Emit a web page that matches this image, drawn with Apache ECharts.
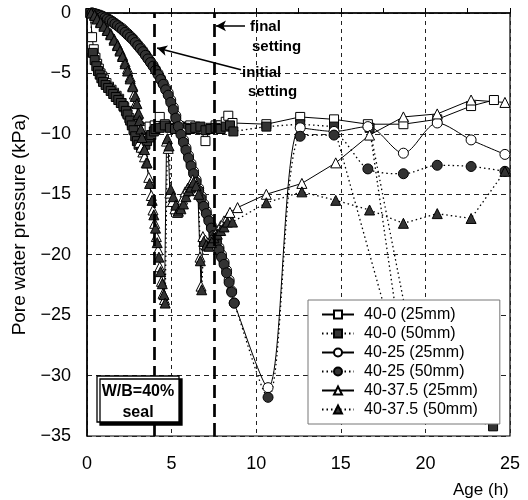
<!DOCTYPE html>
<html><head><meta charset="utf-8">
<script src="https://cdn.jsdelivr.net/npm/echarts@6/dist/echarts.min.js"></script>
<style>html,body{margin:0;padding:0;background:#fff}#c{width:528px;height:500px}</style>
</head><body><div id="c"></div>
<script>
// ---------- data ----------
const seriesNames = ['40-0 (25mm)','40-0 (50mm)','40-25 (25mm)','40-25 (50mm)','40-37.5 (25mm)','40-37.5 (50mm)'];
const xTickValues = [0,5,10,15,20,25];
const yTickValues = [0,-5,-10,-15,-20,-25,-30,-35];
const settingTimes = [4, 7.5]; // initial, final setting (h)

const s40_0_25 = [[0.2,0],[0.3,-2.0],[0.4,-3.0],[0.5,-3.7],[0.6,-4.2],[0.7,-4.6],[0.8,-5.0],[0.9,-5.25],[1.0,-5.5],[1.15,-5.8],[1.3,-6.1],[1.45,-6.35],[1.6,-6.6],[1.75,-6.85],[1.9,-7.1],[2.05,-7.45],[2.2,-7.8],[2.35,-8.25],[2.5,-8.7],[2.65,-9.1],[2.8,-9.5],[3.1,-9.4],[3.4,-9.5],[3.7,-9.4],[4.0,-9.3],[4.3,-8.6],[4.6,-9.2],[4.9,-9.4],[5.2,-9.3],[5.5,-9.4],[5.8,-9.5],[6.1,-9.3],[6.4,-9.4],[6.7,-9.6],[7.0,-10.6],[7.3,-9.5],[7.6,-9.3],[7.9,-9.3],[8.2,-9.0],[8.35,-8.5],[8.6,-9.1],[10.6,-9.2],[12.6,-8.6],[14.6,-8.8],[16.6,-9.2],[18.7,-9.2],[20.7,-8.8],[22.7,-7.7],[24.05,-7.2]];
const s40_0_50 = [[0.2,0],[0.35,-3.3],[0.45,-3.9],[0.55,-4.4],[0.65,-4.8],[0.75,-5.1],[0.85,-5.4],[0.95,-5.7],[1.1,-5.95],[1.25,-6.2],[1.4,-6.45],[1.55,-6.7],[1.7,-6.95],[1.85,-7.2],[2.0,-7.45],[2.15,-7.7],[2.3,-8.1],[2.4,-8.4],[2.55,-8.9],[2.65,-9.3],[2.75,-9.7],[2.85,-10.2],[2.95,-10.6],[3.05,-10.9],[3.2,-11.1],[3.3,-11.2],[3.45,-10.9],[3.55,-10.6],[3.7,-10.3],[3.8,-10.1],[3.95,-9.8],[4.05,-9.6],[4.3,-9.5],[4.6,-9.3],[4.9,-9.5],[5.2,-9.6],[5.5,-9.4],[5.8,-9.5],[6.1,-9.6],[6.4,-9.5],[6.7,-9.4],[7.0,-9.7],[7.3,-9.6],[7.6,-9.5],[7.9,-9.6],[8.2,-9.4],[8.45,-9.3],[8.65,-9.8],[10.6,-9.4],[12.6,-9.2],[14.6,-9.4],[18.9,-31.0],[16.7,-9.5],[20.0,-33.0],[22.3,-33.4],[24.0,-34.2]];
const s40_25_25 = [[0.3,0],[0.45,-0.05],[0.6,-0.1],[0.75,-0.17],[0.9,-0.25],[1.05,-0.35],[1.2,-0.45],[1.35,-0.57],[1.5,-0.7],[1.65,-0.85],[1.8,-1.0],[1.95,-1.15],[2.1,-1.3],[2.25,-1.5],[2.4,-1.7],[2.55,-1.9],[2.7,-2.1],[2.85,-2.35],[3.0,-2.6],[3.15,-2.85],[3.3,-3.1],[3.45,-3.4],[3.6,-3.7],[3.75,-4.0],[3.9,-4.3],[4.05,-4.65],[4.2,-5.0],[4.35,-5.4],[4.5,-5.8],[4.65,-6.2],[4.8,-6.6],[4.95,-7.2],[5.1,-7.8],[5.25,-8.5],[5.4,-9.2],[5.55,-9.85],[5.7,-10.5],[5.85,-11.15],[6.0,-11.8],[6.15,-12.45],[6.3,-13.1],[6.45,-13.8],[6.6,-14.5],[6.75,-15.15],[6.9,-15.8],[7.05,-16.4],[7.2,-17.0],[7.35,-17.6],[7.5,-18.2],[7.65,-18.8],[7.8,-19.4],[7.95,-20.0],[8.1,-20.6],[8.25,-21.3],[8.4,-22.1],[8.55,-23.0],[8.7,-24.0],[10.7,-31.0],[12.6,-9.5],[14.6,-9.8],[16.6,-9.4],[18.7,-11.6],[20.7,-9.1],[22.7,-10.5],[24.7,-11.7]];
const s40_25_50 = [[0.3,0],[0.45,-0.07],[0.6,-0.15],[0.75,-0.22],[0.9,-0.3],[1.05,-0.4],[1.2,-0.5],[1.35,-0.62],[1.5,-0.75],[1.65,-0.9],[1.8,-1.05],[1.95,-1.22],[2.1,-1.4],[2.25,-1.6],[2.4,-1.8],[2.55,-2.0],[2.7,-2.2],[2.85,-2.45],[3.0,-2.7],[3.15,-2.95],[3.3,-3.2],[3.45,-3.5],[3.6,-3.8],[3.75,-4.1],[3.9,-4.4],[4.05,-4.75],[4.2,-5.1],[4.35,-5.5],[4.5,-5.9],[4.65,-6.35],[4.8,-6.8],[4.95,-7.4],[5.1,-8.0],[5.25,-8.7],[5.4,-9.4],[5.55,-10.05],[5.7,-10.7],[5.85,-11.35],[6.0,-12.0],[6.15,-12.65],[6.3,-13.3],[6.45,-14.0],[6.6,-14.7],[6.75,-15.35],[6.9,-16.0],[7.05,-16.6],[7.2,-17.2],[7.35,-17.8],[7.5,-18.4],[7.65,-19.0],[7.8,-19.6],[7.95,-20.2],[8.1,-20.8],[8.25,-21.5],[8.4,-22.3],[8.55,-23.1],[8.7,-24.0],[10.7,-31.8],[12.6,-10.2],[14.6,-10.1],[16.6,-12.9],[18.7,-13.3],[20.7,-12.6],[22.7,-12.7],[24.7,-13.1]];
const s40_375_25 = [[0.25,0],[0.45,-0.15],[0.6,-0.4],[0.8,-0.7],[1.0,-1.0],[1.2,-1.35],[1.4,-1.7],[1.6,-2.15],[1.8,-2.6],[1.95,-3.05],[2.1,-3.5],[2.25,-4.05],[2.4,-4.6],[2.55,-5.3],[2.7,-6.0],[2.8,-6.7],[2.9,-7.4],[3.0,-8.4],[3.1,-10.7],[3.2,-11.1],[3.3,-11.5],[3.4,-11.9],[3.5,-12.4],[3.65,-13.6],[3.8,-15.1],[3.9,-16.3],[4.0,-17.4],[4.1,-18.5],[4.2,-19.6],[4.3,-21.0],[4.4,-22.2],[4.5,-23.2],[4.58,-23.7],[4.7,-10.6],[4.8,-11.2],[4.9,-14.9],[5.05,-15.6],[5.2,-16.2],[5.35,-16.5],[5.5,-16.0],[5.65,-15.4],[5.8,-14.8],[5.95,-14.5],[6.1,-14.2],[6.25,-13.8],[6.4,-14.0],[6.55,-14.7],[6.68,-20.2],[6.74,-22.6],[6.85,-18.5],[7.0,-18.8],[7.15,-19.0],[7.3,-18.8],[7.5,-18.4],[7.7,-18.0],[7.9,-17.6],[8.1,-17.2],[8.3,-16.9],[8.45,-16.5],[8.9,-16.1],[10.6,-15.0],[12.7,-14.1],[14.7,-12.4],[16.7,-10.1],[18.7,-8.6],[20.7,-8.35],[22.7,-7.2],[24.7,-7.4]];
const s40_375_50 = [[0.25,0],[0.45,-0.2],[0.6,-0.5],[0.8,-0.8],[1.0,-1.1],[1.2,-1.45],[1.4,-1.8],[1.6,-2.25],[1.8,-2.7],[1.95,-3.15],[2.1,-3.6],[2.25,-4.2],[2.4,-4.8],[2.55,-5.45],[2.7,-6.1],[2.85,-6.9],[2.95,-7.5],[3.05,-8.3],[3.1,-8.9],[3.18,-9.6],[3.25,-10.3],[3.4,-11.3],[3.55,-12.4],[3.7,-14.1],[3.85,-15.5],[3.95,-16.7],[4.05,-17.8],[4.15,-19.0],[4.25,-20.2],[4.35,-21.4],[4.45,-22.4],[4.55,-23.3],[4.62,-24.0],[4.75,-10.4],[4.85,-11.0],[4.95,-14.6],[5.1,-15.2],[5.25,-15.9],[5.4,-16.4],[5.55,-16.2],[5.7,-15.8],[5.85,-15.2],[6.0,-14.7],[6.15,-14.4],[6.3,-14.0],[6.45,-14.3],[6.6,-15.0],[6.7,-20.5],[6.78,-22.9],[6.9,-18.9],[7.05,-19.2],[7.2,-19.3],[7.35,-19.0],[7.5,-18.6],[7.7,-18.3],[7.9,-18.0],[8.1,-17.7],[8.3,-17.3],[8.6,-17.3],[10.6,-15.7],[12.7,-14.8],[14.7,-15.5],[16.7,-16.3],[18.7,-17.4],[20.7,-16.6],[22.7,-17.0],[24.7,-13.1]];

// ---------- chart ----------
const FONT = '"Liberation Sans", Arial, sans-serif';
function mk(name, data, symbol, filled, dotted, size, smooth) {
  return {
    name, type: 'line', data, symbol, symbolSize: size, smooth: smooth || false,
    showSymbol: true, clip: true,
    lineStyle: { color: '#000', width: dotted ? 1.3 : 1, type: dotted ? [1.5, 3] : 'solid' },
    itemStyle: { color: filled ? '#333' : '#fff', borderColor: '#000', borderWidth: 1 },
    emphasis: { disabled: true }
  };
}
const chart = echarts.init(document.getElementById('c'), null, { renderer: 'canvas' });
const option = {
  animation: false,
  backgroundColor: '#fff',
  grid: { left: 87, right: 18, top: 13, bottom: 64, show: true, borderColor: '#000', borderWidth: 1.2, containLabel: false },
  xAxis: {
    type: 'value', min: 0, max: 25, interval: 5,
    axisLine: { show: true, lineStyle: { color: '#000', width: 1.5 } },
    axisTick: { show: true, inside: true, length: 5, lineStyle: { color: '#000' } },
    minorTick: { show: true, splitNumber: 2, length: 5, lineStyle: { color: '#000' } },
    splitLine: { show: true, lineStyle: { color: '#222', width: 1, type: [4, 4] } },
    axisLabel: { color: '#000', fontSize: 18, fontFamily: FONT, margin: 19 }
  },
  yAxis: {
    type: 'value', min: -35, max: 0, interval: 5,
    name: 'Pore water pressure (kPa)', nameLocation: 'middle', nameGap: 49,
    nameTextStyle: { color: '#000', fontSize: 19, fontFamily: FONT },
    axisLine: { show: true, lineStyle: { color: '#000', width: 1.5 } },
    axisTick: { show: false },
    splitLine: { show: true, lineStyle: { color: '#222', width: 1, type: [5, 4] } },
    axisLabel: { color: '#000', fontSize: 18, fontFamily: FONT, margin: 16,
      formatter: v => (v < 0 ? '\u2212' + Math.abs(v) : String(v)) }
  },
  legend: {
    data: seriesNames, orient: 'vertical', left: 308, top: 300,
    backgroundColor: '#fff', borderColor: '#777', borderWidth: 1,
    padding: [6, 22, 6, 13], itemWidth: 32, itemHeight: 10, itemGap: 2,
    textStyle: { color: '#000', fontSize: 16, fontFamily: FONT, lineHeight: 17, padding: [0, 0, 0, 5] },
    selectedMode: false
  },
  series: [
    mk(seriesNames[0], s40_0_25, 'rect', false, false, 9),
    mk(seriesNames[1], s40_0_50, 'rect', true, true, 9),
    mk(seriesNames[2], s40_25_25, 'circle', false, false, 10, 0.3),
    mk(seriesNames[3], s40_25_50, 'circle', true, true, 10, 0.3),
    mk(seriesNames[4], s40_375_25, 'triangle', false, false, 10),
    mk(seriesNames[5], s40_375_50, 'triangle', true, true, 10),
    { type: 'line', data: [], silent: true,
      markLine: { silent: true, symbol: ['none', 'none'], label: { show: false }, animation: false,
        lineStyle: { color: '#000', type: [13, 6], width: 2.7 },
        data: settingTimes.map(t => ({ xAxis: t })) } },
    { type: 'line', data: [], silent: true,
      markLine: { silent: true, symbol: ['none', 'arrow'], symbolSize: [8, 10], label: { show: false }, animation: false,
        lineStyle: { color: '#000', type: 'solid', width: 1.5 },
        data: [
          [{ coord: [9.34, -1.07] }, { coord: [7.62, -1.07] }],
          [{ coord: [9.1, -4.7] }, { coord: [4.14, -2.9] }]
        ] } }
  ],
  graphic: [
    { type: 'text', x: 250, y: 27, z: 50, style: { text: 'final', font: 'bold 15px "Liberation Sans", Arial', fill: '#000', verticalAlign: 'middle' } },
    { type: 'text', x: 252, y: 47, z: 50, style: { text: 'setting', font: 'bold 15px "Liberation Sans", Arial', fill: '#000', verticalAlign: 'middle' } },
    { type: 'text', x: 242, y: 73, z: 50, style: { text: 'initial', font: 'bold 15px "Liberation Sans", Arial', fill: '#000', verticalAlign: 'middle' } },
    { type: 'text', x: 248, y: 92, z: 50, style: { text: 'setting', font: 'bold 15px "Liberation Sans", Arial', fill: '#000', verticalAlign: 'middle' } },
    { type: 'rect', z: 50, shape: { x: 97, y: 376, width: 82, height: 46 },
      style: { fill: '#fff', stroke: '#000', lineWidth: 1.3, shadowColor: '#000', shadowOffsetX: 3, shadowOffsetY: 3, shadowBlur: 0 } },
    { type: 'text', x: 138, y: 392, z: 51, style: { text: 'W/B=40%', font: 'bold 16px "Liberation Sans", Arial', fill: '#000', align: 'center', verticalAlign: 'middle' } },
    { type: 'text', x: 138, y: 413, z: 51, style: { text: 'seal', font: 'bold 16px "Liberation Sans", Arial', fill: '#000', align: 'center', verticalAlign: 'middle' } },
    { type: 'text', x: 453, y: 490, z: 50, style: { text: 'Age (h)', font: '17px "Liberation Sans", Arial', fill: '#000', verticalAlign: 'middle' } }
  ]
};
chart.setOption(option);
</script>
</body></html>
